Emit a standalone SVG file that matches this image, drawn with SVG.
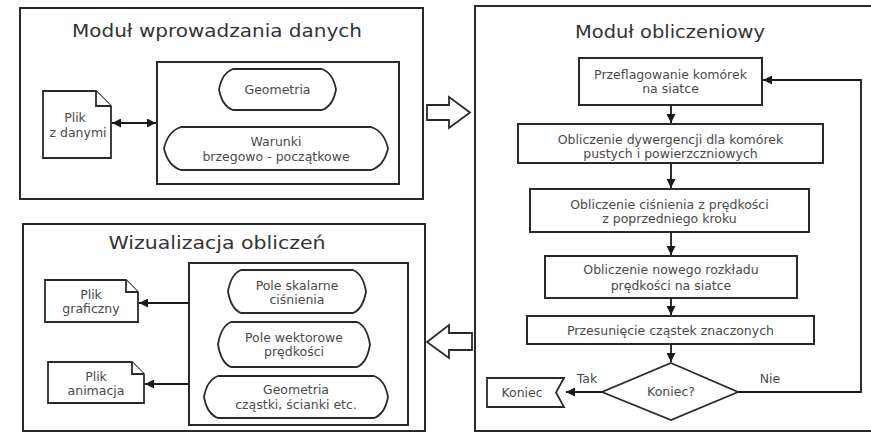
<svg xmlns="http://www.w3.org/2000/svg" width="871" height="433" viewBox="0 0 871 433">
<defs>
<marker id="ah" viewBox="0 0 10 10" refX="10" refY="5" markerUnits="userSpaceOnUse" markerWidth="10" markerHeight="9" orient="auto-start-reverse">
<path d="M0,0 L10,5 L0,10 z" fill="#1a1a1a"/>
</marker>
<style>
.box{fill:#fff;stroke:#2a2a2a;stroke-width:2}
.sh{fill:#fff;stroke:#2a2a2a;stroke-width:1.8}
.ln{fill:none;stroke:#1a1a1a;stroke-width:1.8}
.ttl{font-family:"DejaVu Sans",sans-serif;font-size:17px;fill:#333;text-anchor:middle}
.t{font-family:"DejaVu Sans",sans-serif;font-size:12.5px;fill:#4a4a4a;text-anchor:middle}
.hol{fill:#fff;stroke:#2a2a2a;stroke-width:1.8;stroke-linejoin:miter}
</style>
</defs>
<rect width="871" height="433" fill="#fff"/>

<g id="modul-wprowadzania">
<rect class="box" x="20" y="8" width="403" height="191"/>
<text class="ttl" x="217" y="37" textLength="290" lengthAdjust="spacingAndGlyphs">Moduł wprowadzania danych</text>
<rect class="box" x="157" y="62" width="242" height="122"/>
</g>
<g id="geometria">
<path class="sh" d="M233,69 H322 Q333,73 336,89.5 Q333,106 322,110 H233 Q222,106 219,89.5 Q222,73 233,69 Z"/>
<text class="t" x="277.5" y="94">Geometria</text>
</g>
<g id="warunki">
<path class="sh" d="M181,127 H371 Q384,131 388,148.5 Q384,166 371,170 H181 Q168,166 164,148.5 Q168,131 181,127 Z"/>
<text class="t" x="276" y="146">Warunki</text>
<text class="t" x="276" y="161">brzegowo - początkowe</text>
</g>
<g id="plik-dane">
<path class="sh" d="M43,91 H96 L111,106 V158 H43 Z"/>
<path class="sh" d="M96,91 V106 H111"/>
<text class="t" x="75" y="122">Plik</text>
<text class="t" x="78" y="137">z danymi</text>
</g>

<g id="wizualizacja">
<rect class="box" x="23" y="224" width="402" height="207"/>
<text class="ttl" x="217" y="249" textLength="217" lengthAdjust="spacingAndGlyphs">Wizualizacja obliczeń</text>
<rect class="box" x="189" y="263" width="219" height="162"/>
</g>
<g id="pole-skalarne">
<path class="sh" d="M241,270 H353 Q363,274 366,291.5 Q363,309 353,313 H241 Q231,309 228,291.5 Q231,274 241,270 Z"/>
<text class="t" x="297" y="290">Pole skalarne</text>
<text class="t" x="297" y="304">ciśnienia</text>
</g>
<g id="pole-wektorowe">
<path class="sh" d="M231,322 H357 Q367,326 370,344.5 Q367,363 357,367 H231 Q221,363 218,344.5 Q221,326 231,322 Z"/>
<text class="t" x="294" y="342">Pole wektorowe</text>
<text class="t" x="294" y="356">prędkości</text>
</g>
<g id="geometria-czastki">
<path class="sh" d="M218,376 H374 Q385,380 388,397 Q385,414 374,418 H218 Q207,414 204,397 Q207,380 218,376 Z"/>
<text class="t" x="296" y="394">Geometria</text>
<text class="t" x="296" y="409">cząstki, ścianki etc.</text>
</g>
<g id="plik-graficzny">
<path class="sh" d="M45,280 H126 L138,292 V322 H45 Z"/>
<path class="sh" d="M126,280 V292 H138"/>
<text class="t" x="91" y="299">Plik</text>
<text class="t" x="91" y="313">graficzny</text>
</g>
<g id="plik-animacja">
<path class="sh" d="M48,362 H132 L144,374 V403 H48 Z"/>
<path class="sh" d="M132,362 V374 H144"/>
<text class="t" x="96" y="381">Plik</text>
<text class="t" x="96" y="395">animacja</text>
</g>

<g id="modul-obliczeniowy">
<rect class="box" x="475" y="6" width="400" height="425"/>
<text class="ttl" x="670" y="38" textLength="190" lengthAdjust="spacingAndGlyphs">Moduł obliczeniowy</text>
</g>
<g id="przeflagowanie">
<rect class="box" x="579" y="58" width="183" height="47"/>
<text class="t" x="670.5" y="79">Przeflagowanie komórek</text>
<text class="t" x="670.5" y="93">na siatce</text>
</g>
<g id="dywergencja">
<rect class="box" x="518" y="124" width="305" height="39"/>
<text class="t" x="670.5" y="144">Obliczenie dywergencji dla komórek</text>
<text class="t" x="670.5" y="158">pustych i powierzczniowych</text>
</g>
<g id="cisnienie">
<rect class="box" x="530" y="189" width="279" height="43"/>
<text class="t" x="669.5" y="209">Obliczenie ciśnienia z prędkości</text>
<text class="t" x="669.5" y="223">z poprzedniego kroku</text>
</g>
<g id="rozklad">
<rect class="box" x="545" y="256" width="252" height="42"/>
<text class="t" x="671" y="274">Obliczenie nowego rozkładu</text>
<text class="t" x="671" y="290">prędkości na siatce</text>
</g>
<g id="przesuniecie">
<rect class="box" x="527" y="316" width="287" height="28"/>
<text class="t" x="670.5" y="335">Przesunięcie cząstek znaczonych</text>
</g>
<g id="decyzja">
<polygon class="sh" points="671,363 738,392 671,420 602,392"/>
<text class="t" x="671" y="396">Koniec?</text>
</g>
<g id="koniec">
<path class="sh" d="M487,378 H564 L556,392.5 L564,407 H487 Z"/>
<text class="t" x="522" y="396.5">Koniec</text>
</g>

<g id="connectors">
<line class="ln" x1="112" y1="123" x2="156" y2="123" marker-start="url(#ah)" marker-end="url(#ah)"/>
<line class="ln" x1="189" y1="303" x2="139" y2="303" marker-end="url(#ah)"/>
<line class="ln" x1="189" y1="384" x2="145" y2="384" marker-end="url(#ah)"/>
<line class="ln" x1="671" y1="105" x2="671" y2="123" marker-end="url(#ah)"/>
<line class="ln" x1="671" y1="163" x2="671" y2="188" marker-end="url(#ah)"/>
<line class="ln" x1="671" y1="232" x2="671" y2="255" marker-end="url(#ah)"/>
<line class="ln" x1="671" y1="298" x2="671" y2="315" marker-end="url(#ah)"/>
<line class="ln" x1="671" y1="344" x2="671" y2="362" marker-end="url(#ah)"/>
<polyline class="ln" points="738,392 861,392 861,80 763,80" marker-end="url(#ah)"/>
<line class="ln" x1="602" y1="392" x2="566" y2="392" marker-end="url(#ah)"/>
<polygon class="hol" points="427,105 449,105 449,97 470,112.5 449,128 449,120 427,120"/>
<polygon class="hol" points="472,333 449,333 449,325 427,342 449,358 449,350 472,350"/>
<text class="t" x="587" y="383">Tak</text>
<text class="t" x="770" y="383">Nie</text>
</g>
</svg>
